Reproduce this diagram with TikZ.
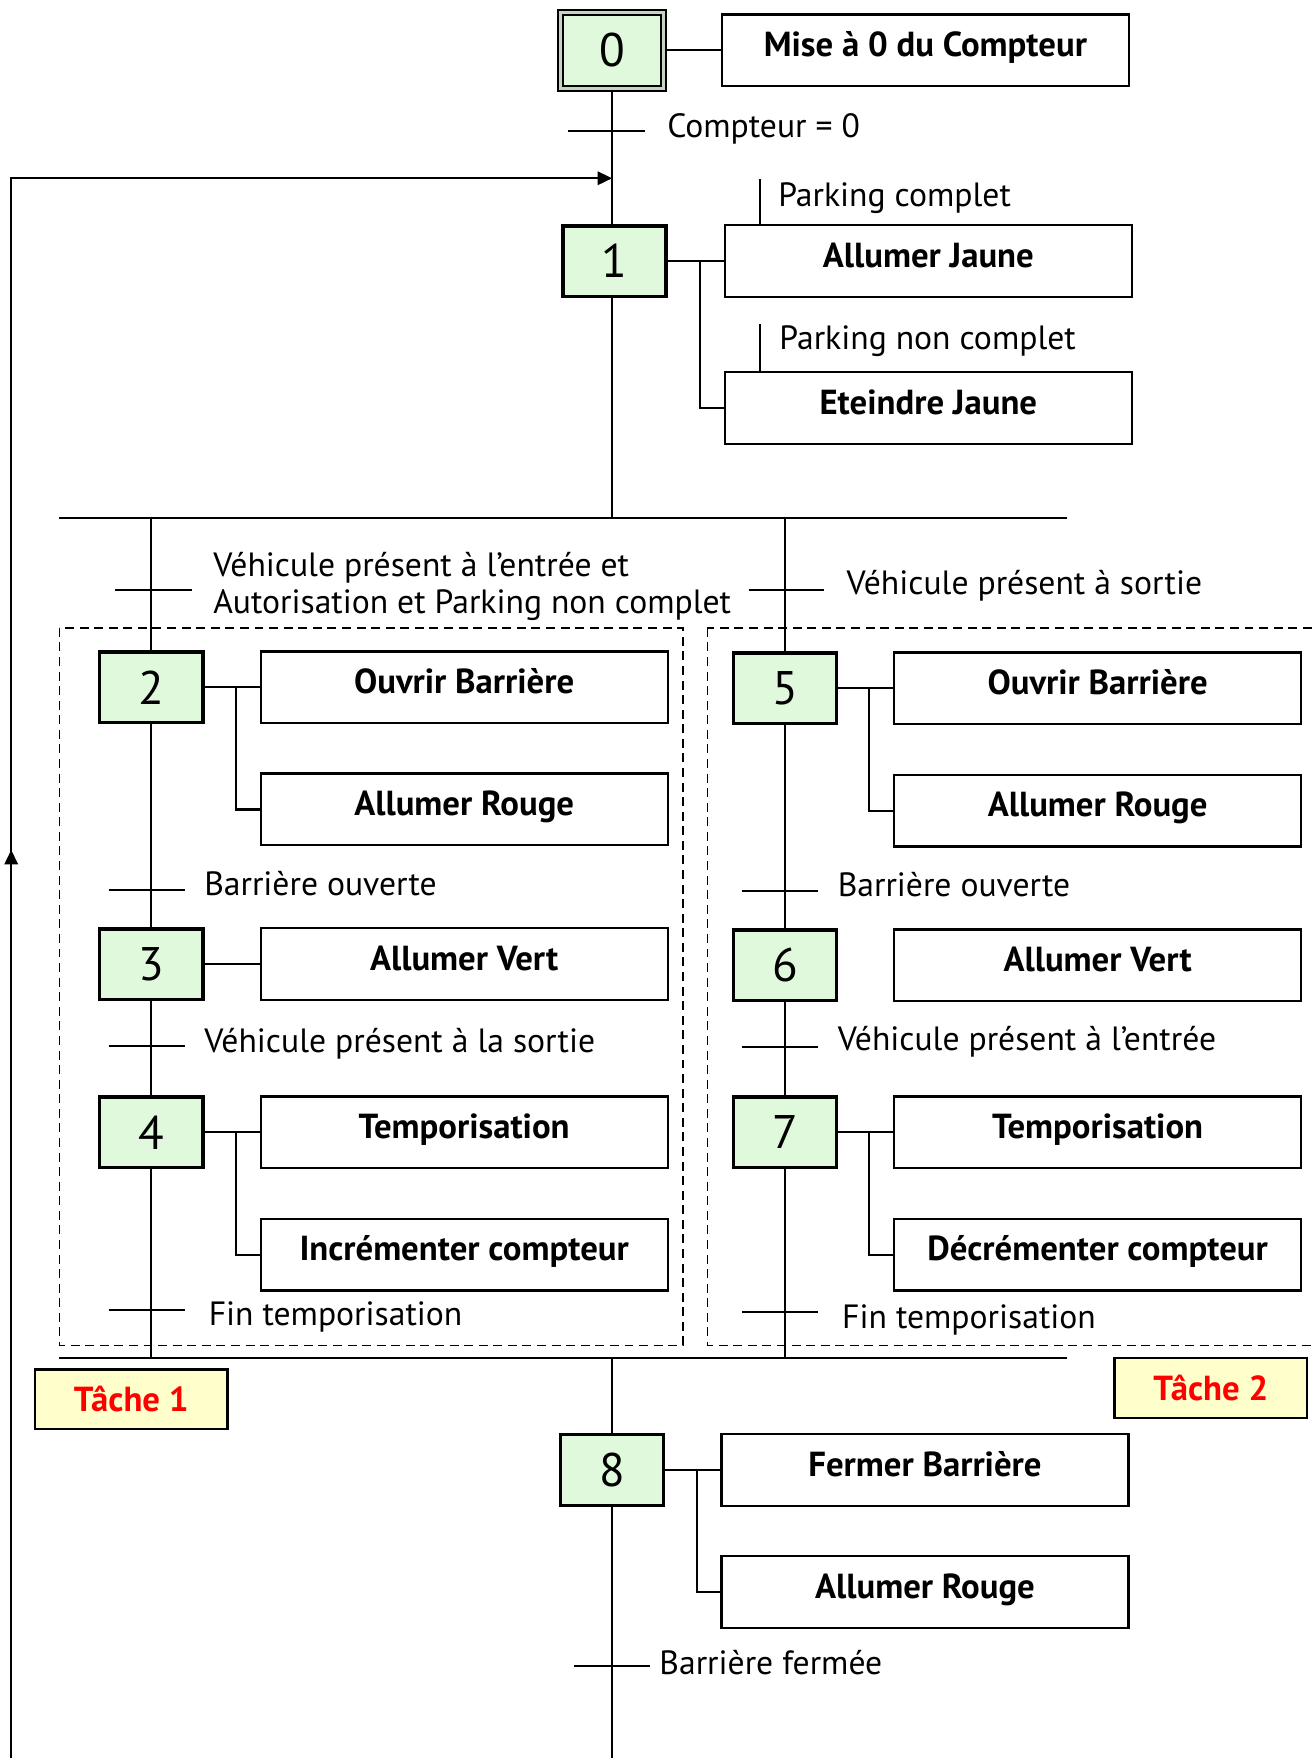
\documentclass[tikz,border=0pt]{standalone}
\usepackage{fontspec}
\setmainfont{PT Sans}
\usetikzlibrary{arrows.meta,positioning,calc}

\definecolor{vertetape}{RGB}{224,248,220}
\definecolor{jaunetache}{RGB}{255,255,204}

\tikzset{
	ligne/.style={line width=1.8pt},
	etape/.style={draw,line width=3pt,fill=vertetape,minimum width=92pt,minimum height=63pt,inner sep=0pt,font=\fontsize{42}{46}\selectfont},
	etapeinit/.style={etape,line width=1.7pt,double=vertetape!70!gray,double distance=2.5pt,minimum width=92pt,minimum height=68pt},
	action/.style={draw,line width=2pt,minimum width=363pt,minimum height=64pt,inner sep=0pt,text height=22pt,text depth=11pt,font=\bfseries\fontsize{31}{34}\selectfont},
	cond/.style={anchor=west,inner sep=0pt,font=\fontsize{30}{33}\selectfont},
	tache/.style={draw,line width=2pt,fill=jaunetache,text=red,minimum width=172pt,minimum height=53pt,font=\bfseries\fontsize{31}{34}\selectfont},
	tachebox/.style={line width=1.4pt,dash pattern=on 8pt off 5pt},
	fleche/.style={-{Triangle[length=13pt,width=12pt]}}
}

\begin{document}
\begin{tikzpicture}[x=1pt,y=-1pt]
	\useasboundingbox (0,0) rectangle (1173,1568);

	% cadres des taches
	\draw[tachebox] (53,560) rectangle (609,1200);
	\draw[tachebox] (631,560) rectangle (1190,1200);

	% etapes
	\node[etapeinit] (e0) at (546,45) {0};
	\node[etape] (e1) at (548,233) {1};
	\node[etape] (e2) at (135,613) {2};
	\node[etape] (e3) at (135,860) {3};
	\node[etape] (e4) at (135,1010) {4};
	\node[etape] (e5) at (700,614) {5};
	\node[etape] (e6) at (700,861) {6};
	\node[etape] (e7) at (700,1010) {7};
	\node[etape] (e8) at (546,1311) {8};

	% actions
	\node[action, right=50pt of e0] (a0) {Mise à 0 du Compteur};
	\node[action, right=50pt of e1] (a1a) {Allumer Jaune};
	\node[action, below=65pt of a1a] (a1b) {Eteindre Jaune};
	\node[action, right=49pt of e2] (a2a) {Ouvrir Barrière};
	\node[action, below=43pt of a2a] (a2b) {Allumer Rouge};
	\node[action, right=49pt of e3] (a3) {Allumer Vert};
	\node[action, right=49pt of e4] (a4a) {Temporisation};
	\node[action, below=43pt of a4a] (a4b) {Incrémenter compteur};
	\node[action, right=49pt of e5] (a5a) {Ouvrir Barrière};
	\node[action, below=43pt of a5a] (a5b) {Allumer Rouge};
	\node[action, right=49pt of e6] (a6) {Allumer Vert};
	\node[action, right=49pt of e7] (a7a) {Temporisation};
	\node[action, below=43pt of a7a] (a7b) {Décrémenter compteur};
	\node[action, right=49pt of e8] (a8a) {Fermer Barrière};
	\node[action, below=43pt of a8a] (a8b) {Allumer Rouge};

	% liaisons etapes - actions
	\draw[ligne] (e0) -- (a0);
	\foreach \e/\a/\b in {e1/a1a/a1b, e2/a2a/a2b, e4/a4a/a4b, e5/a5a/a5b, e7/a7a/a7b, e8/a8a/a8b}{
		\draw[ligne] (\e) -- (\a);
		\coordinate (j\e) at ($(\e.east)!0.57!(\a.west)$);
		\draw[ligne] (j\e) |- (\b.west);
	}
	\draw[ligne] (e3) -- (a3);

	% conditions sur actions
	\draw[ligne] ($(a1a.north west)+(32,0)$) -- ++(0,-40);
	\node[cond] (pc) at (694,177) {Parking complet};
	\draw[ligne] ($(a1b.north west)+(32,0)$) -- ++(0,-42);
	\node[cond] (pnc) at (695,304) {Parking non complet};

	% sequence principale
	\coordinate (divg) at (53,462);
	\coordinate (divd) at (952,462);
	\coordinate (convg) at (53,1211);
	\coordinate (convd) at (952,1211);
	\coordinate (fin) at (546,1568);
	\draw[ligne] (e0) -- (e0 |- e1.north);
	\draw[ligne] (e0 |- e1.south) -- (e0 |- divg);
	\draw[ligne] (divg) -- (divd);
	\draw[ligne] (convg) -- (convd);
	\draw[ligne] (e8 |- convg) -- (e8);
	\draw[ligne] (e8) -- (fin);

	% branche tache 1
	\draw[ligne] (e2 |- divg) -- (e2);
	\draw[ligne] (e2) -- (e3);
	\draw[ligne] (e3) -- (e4);
	\draw[ligne] (e4) -- (e4 |- convg);

	% branche tache 2
	\draw[ligne] (e5 |- divg) -- (e5);
	\draw[ligne] (e5) -- (e6);
	\draw[ligne] (e6) -- (e7);
	\draw[ligne] (e7) -- (e7 |- convg);

	% transitions
	\draw[ligne] (507,117) -- (575,117);
	\node[cond] (t0) at (595,115) {Compteur = 0};
	\draw[ligne] (103,526) -- (171,526);
	\node[cond, align=left] (t1) at (190,523) {Véhicule présent à l’entrée et\\Autorisation et Parking non complet};
	\draw[ligne] (668,526) -- (735,526);
	\node[cond] (t5) at (755,522) {Véhicule présent à sortie};
	\draw[ligne] (97,794) -- (165,794);
	\node[cond] (t2) at (182,788) {Barrière ouverte};
	\draw[ligne] (97,933) -- (165,933);
	\node[cond] (t3) at (182,931) {Véhicule présent à la sortie};
	\draw[ligne] (97,1168) -- (165,1168);
	\node[cond] (t4) at (186,1175) {Fin temporisation};
	\draw[ligne] (662,795) -- (730,795);
	\node[cond] (t6) at (747,789) {Barrière ouverte};
	\draw[ligne] (662,934) -- (730,934);
	\node[cond] (t7) at (747,929) {Véhicule présent à l’entrée};
	\draw[ligne] (662,1170) -- (730,1170);
	\node[cond] (t8) at (751,1177) {Fin temporisation};
	\draw[ligne] (512,1486) -- (580,1486);
	\node[cond] (t9) at (588,1483) {Barrière fermée};

	% retour vers etape 1
	\coordinate (bas) at (10,1568);
	\coordinate (haut) at (10,159);
	\draw[ligne,fleche] (bas) -- (10,758);
	\draw[ligne,fleche] (10,760) -- (haut) -- (e0 |- haut);

	% noms des taches
	\node[tache] (tache1) at (117,1248) {Tâche 1};
	\node[tache] (tache2) at (1080,1238) {Tâche 2};
\end{tikzpicture}
\end{document}
